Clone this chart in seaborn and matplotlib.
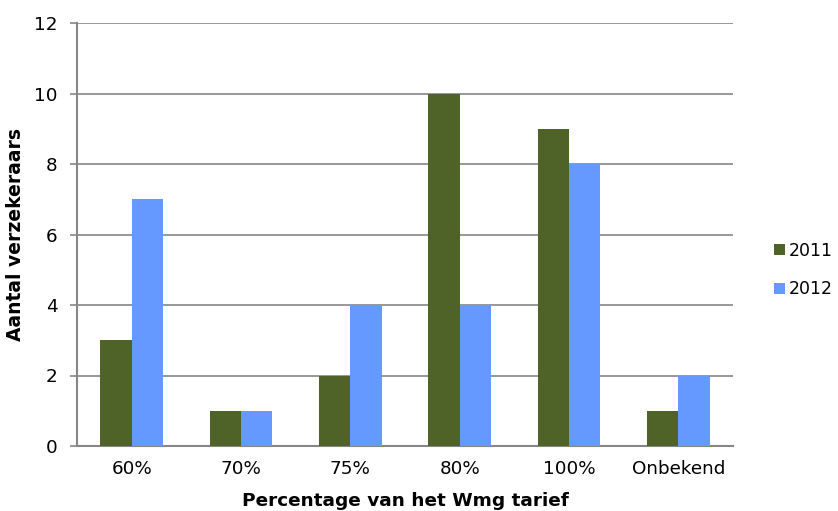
import matplotlib
matplotlib.use("Agg")
import matplotlib.pyplot as plt
import seaborn as sns
import pandas as pd
import numpy as np

categories = ["60%", "70%", "75%", "80%", "100%", "Onbekend"]
values_2011 = [3, 1, 2, 10, 9, 1]
values_2012 = [7, 1, 4, 4, 8, 2]
years = ["2011", "2012"]
colors = {"2011": "#4F6228", "2012": "#6699FF"}

df = pd.DataFrame({
    "categorie": categories * 2,
    "aantal": values_2011 + values_2012,
    "jaar": ["2011"] * len(categories) + ["2012"] * len(categories),
})

sns.set_style("white")
plt.rcParams["font.family"] = ["DejaVu Sans"]
plt.rcParams["text.color"] = "black"
plt.rcParams["axes.labelcolor"] = "black"
plt.rcParams["xtick.labelcolor"] = "black"
plt.rcParams["ytick.labelcolor"] = "black"

fig = plt.figure(figsize=(8.38, 5.11), dpi=100)
ax = fig.add_axes([77 / 838, 1 - 446 / 511, (733 - 77) / 838, (446 - 23) / 511])

sns.barplot(data=df, x="categorie", y="aantal", hue="jaar", order=categories,
            hue_order=years, palette=colors, width=0.576, saturation=1,
            linewidth=0, ax=ax, zorder=3)

grid_c = "#868686"
ax.set_ylim(0, 12)
ax.set_xlim(-0.5, len(categories) - 0.5)
ax.set_yticks(np.arange(0, 13, 2))
ax.yaxis.grid(True, color=grid_c, linewidth=1.2, zorder=0)
ax.set_axisbelow(True)

for s in ["top", "right"]:
    ax.spines[s].set_visible(False)
for s in ["left", "bottom"]:
    ax.spines[s].set_color(grid_c)
    ax.spines[s].set_linewidth(1.5)

ax.set_xticks(np.arange(len(categories)))
ax.set_xticklabels(categories)
ax.set_xticks(np.arange(-0.5, len(categories)), minor=True)
ax.tick_params(axis="x", which="major", length=0, labelsize=13.2, pad=10)
ax.tick_params(axis="x", which="minor", length=5, width=1.2, color=grid_c, direction="out")
ax.tick_params(axis="y", length=5, width=1.2, color=grid_c, labelsize=13.2, pad=9, direction="out", left=True)

ax.set_xlabel("Percentage van het Wmg tarief", fontsize=13.3, fontweight="bold")
ax.set_ylabel("Aantal verzekeraars", fontsize=13.5, fontweight="bold")
ax.xaxis.set_label_coords(0.5, -0.108)
ax.yaxis.set_label_coords(-0.08, 0.5)

ax.get_legend().remove()
handles, labels = ax.get_legend_handles_labels()
fig.legend(handles, labels, loc="center left", bbox_to_anchor=(774 / 838, 1 - 270 / 511),
           frameon=False, fontsize=12.5, handlelength=0.65, handleheight=0.65,
           handletextpad=0.2, labelspacing=1.2, borderpad=0, borderaxespad=0)

fig.savefig("out.png", dpi=100)
